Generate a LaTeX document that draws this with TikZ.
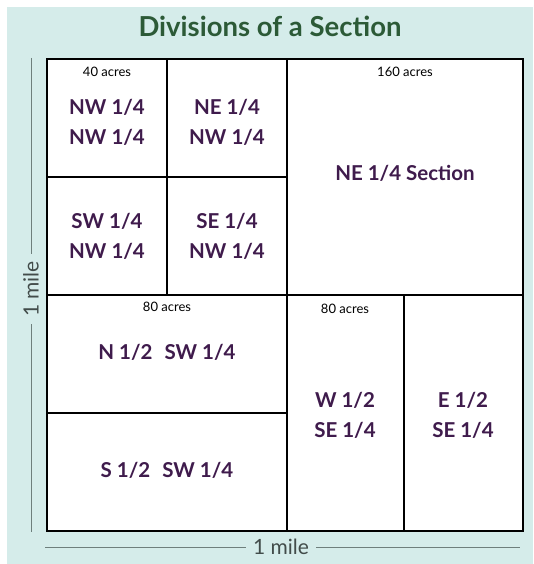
\documentclass[tikz,border=0pt]{standalone}
\usepackage{fontspec}
\setmainfont{Lato}
\definecolor{bgc}{HTML}{D5ECEA}
\definecolor{titlec}{HTML}{2C5A37}
\definecolor{purp}{HTML}{3F1B4C}
\definecolor{rulec}{HTML}{6E7F7C}
\begin{document}
\begin{tikzpicture}[x=1pt,y=-1pt,
  lab/.style={font=\fontsize{20.5}{24}\selectfont\bfseries, text=purp, align=center, inner sep=0pt},
  acres/.style={font=\fontsize{13}{15}\selectfont, text=black, inner sep=0pt},
  grid/.style={draw=black, line width=2pt},
  mile/.style={font=\fontsize{21}{24}\selectfont, text=rulec!60!black, inner xsep=7pt, inner ysep=3pt, fill=bgc},
  ruler/.style={draw=rulec, line width=1pt}]
\useasboundingbox (0,0) rectangle (533,564);
\fill[white] (0,0) rectangle (533,564);
\fill[bgc] (7,7) rectangle (533,564);
\node[font=\fontsize{27.5}{32}\selectfont\bfseries, text=titlec, inner sep=0pt] (title) at (270,26) {Divisions of a Section};
% grid
\fill[white] (47,59) rectangle (523,531);
\draw[grid] (47,59) rectangle (523,531);
\draw[grid] (167,59) -- (167,295);
\draw[grid] (287,59) -- (287,531);
\draw[grid] (47,177) -- (287,177);
\draw[grid] (47,295) -- (523,295);
\draw[grid] (47,413) -- (287,413);
\draw[grid] (404,295) -- (404,531);
% labels
\node[acres] (a40) at (107,72) {40 acres};
\node[lab] (nwnw) at (107,122) {NW 1/4\\[6pt]NW 1/4};
\node[lab] (nenw) at (227,122) {NE 1/4\\[6pt]NW 1/4};
\node[lab] (swnw) at (107,236) {SW 1/4\\[6pt]NW 1/4};
\node[lab] (senw) at (227,236) {SE 1/4\\[6pt]NW 1/4};
\node[acres] (a160) at (405,72) {160 acres};
\node[lab] (ne) at (405,173) {NE 1/4 Section};
\node[acres] (a80a) at (167,307) {80 acres};
\node[lab] (nsw) at (167,352) {N 1/2\hspace{12pt}SW 1/4};
\node[lab] (ssw) at (167,470) {S 1/2\hspace{12pt}SW 1/4};
\node[acres] (a80b) at (345,309) {80 acres};
\node[lab] (wse) at (345,415) {W 1/2\\[6pt]SE 1/4};
\node[lab] (ese) at (463,415) {E 1/2\\[6pt]SE 1/4};
% rulers
\coordinate (vt) at (31,58);
\coordinate (vb) at (31,532);
\coordinate (hl) at (45,547);
\coordinate (hr) at (520,547);
\draw[ruler] (vt) -- (vb);
\draw[ruler] (hl) -- (hr);
\node[mile, rotate=90] (vm) at (31,289) {1 mile};
\node[mile] (hm) at (281,547) {1 mile};
\end{tikzpicture}
\end{document}
